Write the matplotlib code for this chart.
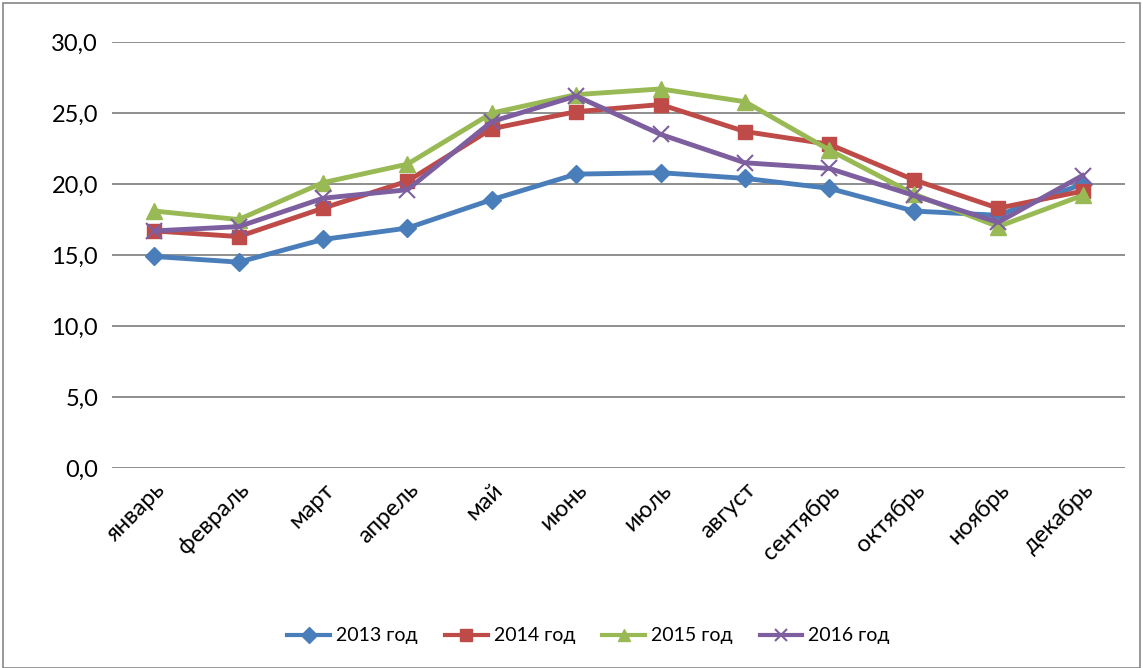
import matplotlib
matplotlib.use("Agg")
import matplotlib.pyplot as plt
from matplotlib.patches import Rectangle
from matplotlib.ticker import FuncFormatter

months = ["январь", "февраль", "март", "апрель", "май", "июнь",
          "июль", "август", "сентябрь", "октябрь", "ноябрь", "декабрь"]
y2013 = [14.9, 14.5, 16.1, 16.9, 18.9, 20.7, 20.8, 20.4, 19.7, 18.1, 17.8, 20.0]
y2014 = [16.7, 16.3, 18.3, 20.2, 23.9, 25.1, 25.6, 23.7, 22.8, 20.3, 18.3, 19.5]
y2015 = [18.1, 17.5, 20.1, 21.4, 25.0, 26.3, 26.7, 25.8, 22.4, 19.3, 17.0, 19.2]
y2016 = [16.7, 17.0, 19.0, 19.6, 24.4, 26.2, 23.5, 21.5, 21.1, 19.2, 17.3, 20.6]
labels = ["2013 год", "2014 год", "2015 год", "2016 год"]

plt.rcParams['font.family'] = ['Lato', 'DejaVu Sans']

fig = plt.figure(figsize=(11.43, 6.68), dpi=100)
ax = fig.add_axes([0.098, 0.2994, 0.886, 0.6376])

x = list(range(len(months)))
series = [
    (y2013, "#4A7EBB", "D", 9),
    (y2014, "#BE4B48", "s", 10),
    (y2015, "#98B954", "^", 11),
    (y2016, "#7D5FA0", "x", 11),
]
for (vals, col, mk, ms), lab in zip(series, labels):
    kw = dict(color=col, linewidth=3.5, marker=mk, markersize=ms, label=lab)
    if mk == "x":
        kw.update(markeredgewidth=1.5)
    ax.plot(x, vals, **kw)

ax.set_ylim(0, 30)
ax.set_yticks([0, 5, 10, 15, 20, 25, 30])
ax.yaxis.set_major_formatter(FuncFormatter(lambda v, p: f"{v:.1f}".replace(".", ",")))
ax.set_xlim(-0.5, 11.5)
ax.set_xticks(x)
ax.set_xticklabels(months, rotation=45, ha="right", rotation_mode="anchor", fontsize=17)
ax.tick_params(axis="y", length=0, labelsize=17, pad=10)
ax.tick_params(axis="x", length=0, pad=8)
ax.grid(axis="y", color="#868686", linewidth=1.3)
ax.set_axisbelow(True)
for s in ax.spines.values():
    s.set_visible(False)

leg = fig.legend(loc="center", bbox_to_anchor=(0.515, 0.048), ncol=4, frameon=False,
                 fontsize=14, handlelength=2.2, columnspacing=1.4, handletextpad=0.3)
for ln in leg.get_lines():
    ln.set_markersize(8)
    ln.set_linewidth(3)

fig.patches.append(Rectangle((0.003, 0.0), 0.994, 0.995, transform=fig.transFigure,
                             fill=False, edgecolor="#868686", linewidth=1.2))

fig.savefig("out.png", dpi=100)
